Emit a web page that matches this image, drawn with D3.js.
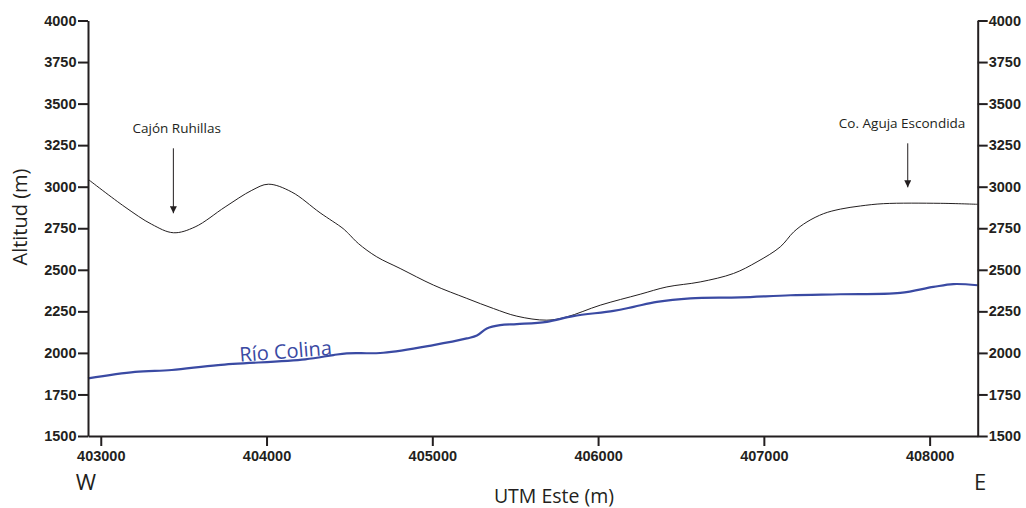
<!DOCTYPE html>
<html><head><meta charset="utf-8">
<script src="https://cdn.jsdelivr.net/npm/d3@7"></script>
<style>
html,body{margin:0;padding:0;background:#fff;}
svg{display:block;}
.ax text{font-family:"Liberation Sans",Arial,sans-serif;font-weight:bold;font-size:14.5px;fill:#231f20;}
.ax path,.ax line{stroke:#231f20;stroke-width:2px;}
</style></head>
<body>
<script>
// Terrain profile (UTM Este, altitude m)
const terrainX = [402923,403146,403307,403438,403569,403750,403911,404011,404152,404323,404462,404494,404554,404665,404806,405007,405208,405369,405510,405691,405812,406013,406254,406415,406616,406817,406959,407099,407180,407260,407361,407461,407582,407723,408065,408290];
const terrainY = [3045,2878,2774,2723,2758,2878,2978,3015,2968,2843,2748,2718,2658,2578,2508,2408,2328,2267,2221,2197,2217,2287,2353,2397,2427,2478,2548,2638,2728,2788,2838,2865,2884,2898,2900,2894];
// Río Colina profile
const riverX = [402923,403207,403428,403708,404233,404403,404484,404705,405007,405208,405269,405329,405409,405510,405691,405850,406093,406214,406355,406556,406858,407160,407461,407823,408023,408143,408290];
const riverY = [1847,1886,1897,1927,1961,1987,1997,2001,2047,2087,2104,2147,2167,2173,2187,2221,2253,2277,2307,2328,2334,2347,2353,2361,2397,2414,2407];
// Axis ticks
const xTicks = [403000,404000,405000,406000,407000,408000];
const yTicks = [1500,1750,2000,2250,2500,2750,3000,3250,3500,3750,4000];
const xDomain = [402923,408290];
const yDomain = [1500,4000];
// Annotations (label, label x, arrow x, arrow top, arrow bottom)
const annLabels = ["Cajón Ruhillas","Co. Aguja Escondida"];
const annLabelX = [403458,407834];
const annArrowX = [403438,407868];
const annArrowTop = [3231,3261];
const annArrowBot = [2840,2996];
const riverLabel = "Río Colina";
const riverLabelAt = [404118,1980];

const W=1026,H=508;
const m={l:88,r:W-977.7,t:20.5,b:H-436};
const svg=d3.select("body").append("svg").attr("width",W).attr("height",H);
const x=d3.scaleLinear().domain(xDomain).range([m.l,W-m.r]);
const y=d3.scaleLinear().domain(yDomain).range([H-m.b,m.t]);

svg.append("defs").append("marker").attr("id","ah").attr("viewBox","0 0 10 10")
 .attr("refX",10).attr("refY",5).attr("markerWidth",7).attr("markerHeight",7)
 .attr("markerUnits","userSpaceOnUse").attr("orient","auto")
 .append("path").attr("d","M0,0L10,5L0,10Z").attr("fill","#231f20");

const line=d3.line().curve(d3.curveCatmullRom.alpha(0.5)).x(d=>x(d[0])).y(d=>y(d[1]));
const terrain=terrainX.map((v,i)=>[v,terrainY[i]]);
const river=riverX.map((v,i)=>[v,riverY[i]]);

svg.append("path").attr("d",line(terrain)).attr("fill","none").attr("stroke","#231f20").attr("stroke-width",1);
svg.append("path").attr("d",line(river)).attr("fill","none").attr("stroke","#3a4aa3").attr("stroke-width",2.2);

svg.append("g").attr("class","ax").attr("transform",`translate(0,${H-m.b})`)
 .call(d3.axisBottom(x).tickValues(xTicks).tickFormat(d3.format("d")).tickSize(10).tickPadding(5).tickSizeOuter(0));
svg.append("g").attr("class","ax").attr("transform",`translate(${m.l},0)`)
 .call(d3.axisLeft(y).tickValues(yTicks).tickFormat(d3.format("d")).tickSize(10).tickPadding(1.5).tickSizeOuter(0));
svg.append("g").attr("class","ax").attr("transform",`translate(${W-m.r},0)`)
 .call(d3.axisRight(y).tickValues(yTicks).tickFormat(d3.format("d")).tickSize(10).tickPadding(1).tickSizeOuter(0));

const txtFont='"Open Sans",sans-serif';
annLabels.forEach((t,i)=>{
  svg.append("line").attr("x1",x(annArrowX[i])).attr("x2",x(annArrowX[i]))
   .attr("y1",y(annArrowTop[i])).attr("y2",y(annArrowBot[i]))
   .attr("stroke","#231f20").attr("stroke-width",1).attr("marker-end","url(#ah)");
  svg.append("text").attr("x",x(annLabelX[i])).attr("y",y(annArrowTop[i])-15)
   .attr("text-anchor","middle").attr("font-family",txtFont).attr("font-size",13.5).attr("fill","#231f20").text(t);
});

svg.append("text").attr("transform",`translate(${x(riverLabelAt[0])},${y(riverLabelAt[1])+2}) rotate(-4.5)`)
 .attr("text-anchor","middle").attr("font-family",txtFont).attr("font-size",20).attr("fill","#3a4aa3").text(riverLabel);

svg.append("text").attr("transform",`translate(27,217) rotate(-90)`).attr("text-anchor","middle")
 .attr("font-family",txtFont).attr("font-size",20).attr("fill","#231f20").text("Altitud (m)");
svg.append("text").attr("x",554).attr("y",503).attr("text-anchor","middle")
 .attr("font-family",txtFont).attr("font-size",19.5).attr("fill","#231f20").text("UTM Este (m)");
svg.append("text").attr("x",86).attr("y",490).attr("text-anchor","middle")
 .attr("font-family",txtFont).attr("font-size",22).attr("fill","#231f20").text("W");
svg.append("text").attr("x",980).attr("y",490).attr("text-anchor","middle")
 .attr("font-family",txtFont).attr("font-size",22).attr("fill","#231f20").text("E");
</script>
</body></html>
